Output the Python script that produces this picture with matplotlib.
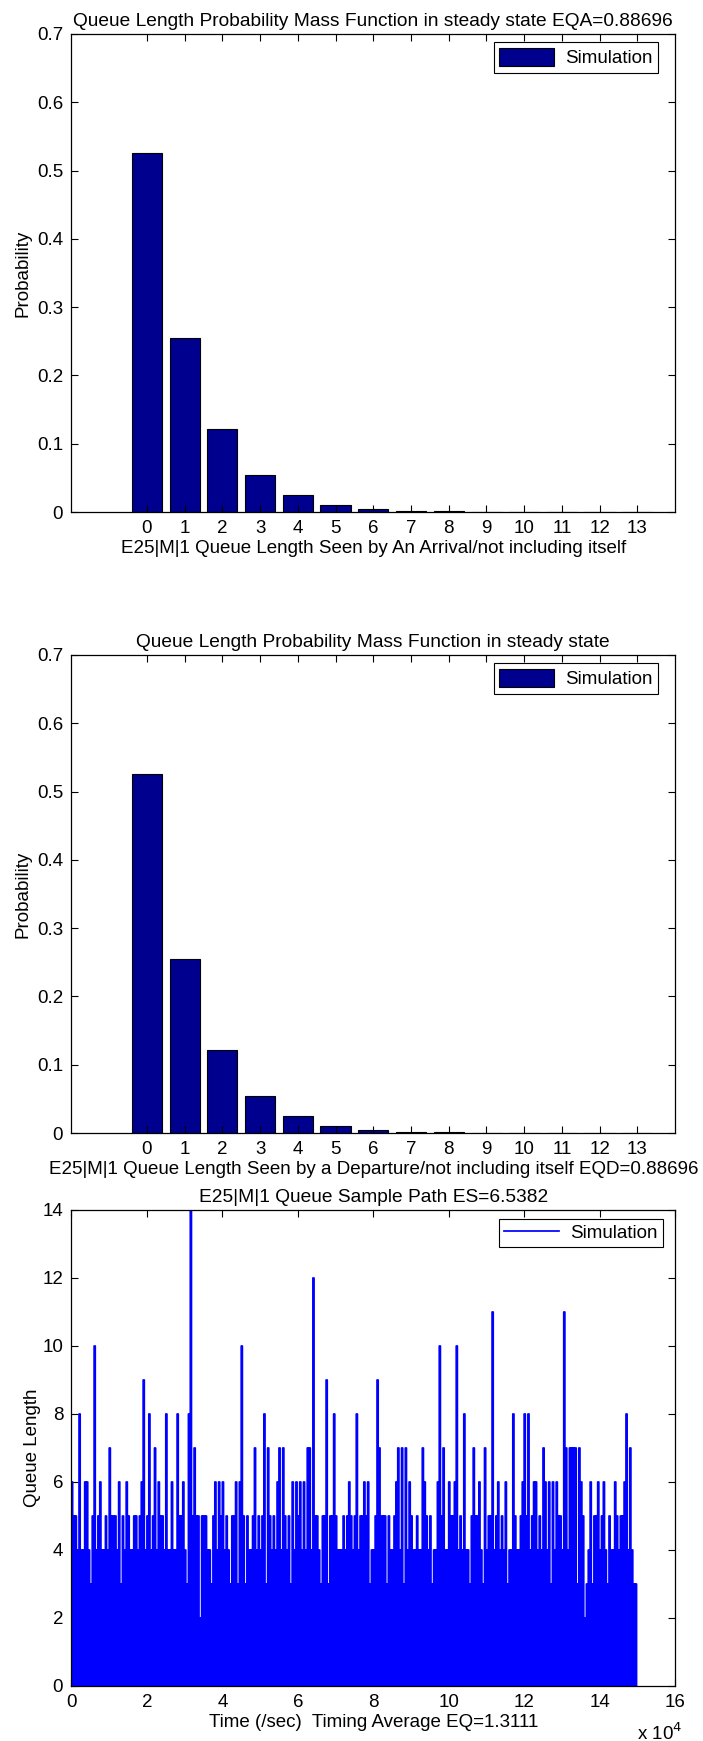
import matplotlib
matplotlib.use('Agg')
import matplotlib.pyplot as plt
from matplotlib.ticker import FuncFormatter

plt.rcParams['font.family'] = ['Liberation Sans', 'DejaVu Sans']
plt.rcParams['font.size'] = 13.5

# steady state pmf of the queue length (0..13 customers)
queue_len = list(range(14))
pmf_arrival = [0.525, 0.255, 0.121, 0.0546, 0.0244, 0.0107, 0.0049,
               0.0022, 0.0010, 0.00045, 0.0002, 0.0001, 0.00004, 0.00002]
pmf_departure = [0.525, 0.255, 0.121, 0.0546, 0.0244, 0.0107, 0.0049,
                 0.0022, 0.0010, 0.00045, 0.0002, 0.0001, 0.00004, 0.00002]

# sample path: one excursion per 500 s bin, peak level of each bin
bin_width = 500
base_levels = ("45545445543544554454455544354554454455345445544554"
               "54454455544345545524554435445544543555344535445445"
               "45435545454455453445544544544554355435545444545354"
               "54455455344544554354455344354554454453545344545544"
               "45534454544354554435455345445453445544534544554454"
               "45453544554454345534452344355445443544354553445433")
# excursions above the usual band (time in s, queue length)
spike_t = [400, 2400, 3500, 4000, 6100, 7500, 10200, 12800, 14800, 17400,
           18800, 19400, 20900, 22300, 23400, 25200, 26500, 28000, 29800, 31200,
           31600, 32700, 34700, 35800, 38000, 39100, 40200,
           43700, 44500, 45300, 48800, 51200, 52100, 54800, 55400, 56300, 58900,
           59600, 60500, 61800, 62900, 63400, 64300, 67900, 69800, 73800, 75800,
           77600, 78600, 81000, 81500,
           83400, 86000, 86900, 87500, 88600, 89700, 93000, 93500, 97200, 97800,
           98700, 100000, 101600, 102100, 104300, 106700, 108100, 109600, 111800,
           113300, 115300, 117300, 119700, 120400, 121200, 122600, 123400, 125200,
           125900, 126500, 127900, 128800, 130500, 131000, 132100, 132700, 133200,
           133800, 134800, 135400, 137700, 139900, 141200, 144300, 146700, 147400,
           148300]
spike_q = [6, 8, 6, 6, 10, 6, 7, 6, 6, 5,
           6, 9, 8, 7, 6, 8, 6, 8, 6, 8,
           14, 7, 5, 5, 6, 6, 6,
           6, 6, 10, 7, 8, 7, 6, 7, 7, 6,
           6, 6, 6, 7, 7, 12, 9, 8, 6, 8,
           6, 6, 9, 7,
           5, 6, 7, 7, 7, 6, 7, 6, 6, 10,
           7, 6, 6, 10, 8, 7, 6, 7, 11,
           6, 6, 8, 6, 8, 8, 6, 6, 7,
           6, 6, 6, 6, 11, 7, 7, 7, 7,
           7, 7, 6, 6, 6, 6, 6, 6, 8,
           7]

bar_color = '#00008f'
line_color = '#0000ff'

fig = plt.figure(figsize=(7.03, 17.41), dpi=100)


def style_axes(ax):
    ax.tick_params(direction='in', top=True, right=True, length=5, width=0.8,
                   pad=6, labelsize=13.5)
    for s in ax.spines.values():
        s.set_linewidth(0.9)


def add_legend(ax, anchor, hlen, hheight):
    leg = ax.legend(loc='upper right', bbox_to_anchor=anchor, borderaxespad=0,
                    fancybox=False, edgecolor='black', framealpha=1,
                    handlelength=hlen, handleheight=hheight, borderpad=0.3,
                    handletextpad=0.6, fontsize=13.5)
    leg.get_frame().set_linewidth(0.8)


def pmf_axes(rect, pmf, title, xlabel):
    ax = fig.add_axes(rect)
    ax.bar(queue_len, pmf, width=0.8, color=bar_color, edgecolor='black',
           linewidth=0.8, label='Simulation')
    ax.set_xlim(-2, 14)
    ax.set_ylim(0, 0.7)
    ax.set_xticks(queue_len)
    ax.set_yticks([0, 0.1, 0.2, 0.3, 0.4, 0.5, 0.6, 0.7])
    ax.set_yticklabels(['0', '0.1', '0.2', '0.3', '0.4', '0.5', '0.6', '0.7'])
    ax.set_title(title, fontsize=13.8, pad=6)
    ax.set_xlabel(xlabel, labelpad=2)
    ax.set_ylabel('Probability')
    ax.yaxis.set_label_coords(-0.066, 0.5)
    style_axes(ax)
    add_legend(ax, (0.972, 0.983), 2.9, 1.15)
    return ax


pmf_axes([0.1017, 0.7059, 0.8585, 0.2746], pmf_arrival,
         'Queue Length Probability Mass Function in steady state EQA=0.88696',
         'E25|M|1 Queue Length Seen by An Arrival/not including itself')
pmf_axes([0.1017, 0.3492, 0.8585, 0.2746], pmf_departure,
         'Queue Length Probability Mass Function in steady state',
         'E25|M|1 Queue Length Seen by a Departure/not including itself EQD=0.88696')

# build the step path of the queue length
levels = [int(c) for c in base_levels]
for t, q in zip(spike_t, spike_q):
    levels[int(t // bin_width)] = q
t_path, q_path = [], []
for i, q in enumerate(levels):
    t0 = i * bin_width
    t1 = t0 + 0.6 * bin_width
    t_path += [t0, t0, t1, t1]
    q_path += [0, q, q, 0]

ax3 = fig.add_axes([0.1017, 0.0316, 0.8585, 0.2734])
ax3.plot(t_path, q_path, color=line_color, linewidth=1.25, label='Simulation')
ax3.set_xlim(0, 160000)
ax3.set_ylim(0, 14)
ax3.set_xticks(range(0, 160001, 20000))
ax3.xaxis.set_major_formatter(FuncFormatter(lambda v, p: '%d' % round(v / 1e4)))
ax3.set_yticks(range(0, 15, 2))
ax3.set_title('E25|M|1 Queue Sample Path ES=6.5382', fontsize=13.8, pad=6)
ax3.set_xlabel('Time (/sec)  Timing Average EQ=1.3111', labelpad=2)
ax3.set_ylabel('Queue Length')
ax3.yaxis.set_label_coords(-0.050, 0.5)
style_axes(ax3)
add_legend(ax3, (0.980, 0.981), 2.9, 0.7)
fig.text(660 / 703, 1 - 1733 / 1741, r'x 10$^4$', ha='center', va='center',
         fontsize=13.5)

fig.savefig('out.png', dpi=100)
